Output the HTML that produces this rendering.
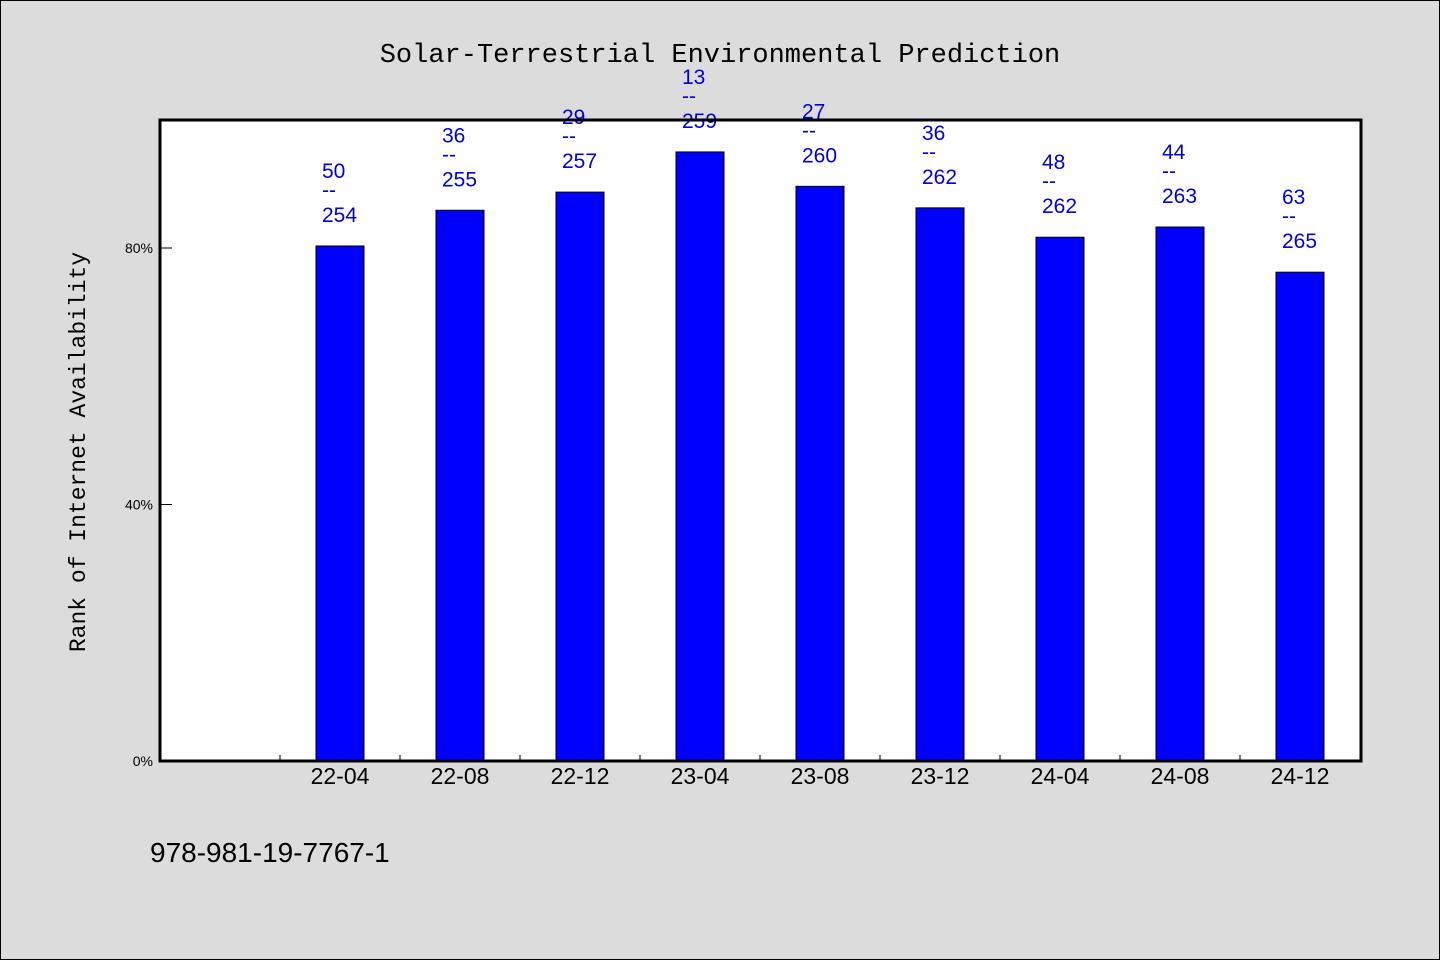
<!DOCTYPE html>
<html><head><meta charset="utf-8"><style>
body{margin:0;background:#dcdcdc;}
svg{display:block;}
</style></head><body>
<svg width="1440" height="960" viewBox="0 0 1440 960" xmlns="http://www.w3.org/2000/svg">
<rect x="0.5" y="0.5" width="1439" height="959" fill="#dcdcdc" stroke="#000"/>
<text x="720" y="62" text-anchor="middle" font-family="Liberation Mono, monospace" font-size="27" fill="#000">Solar-Terrestrial Environmental Prediction</text>
<rect x="160" y="120" width="1201" height="641" fill="#fff"/>
<g id="marks"></g>
<rect x="160" y="120" width="1201" height="641" fill="none" stroke="#000" stroke-width="3"/>
<text transform="translate(85,452) rotate(-90)" text-anchor="middle" font-family="Liberation Mono, monospace" font-size="23" fill="#000">Rank of Internet Availability</text>
<text x="150" y="862" font-family="Liberation Sans, sans-serif" font-size="28" fill="#000">978-981-19-7767-1</text>
</svg>
<script>
const categories = ["22-04","22-08","22-12","23-04","23-08","23-12","24-04","24-08","24-12"];
const ranks = [50,36,29,13,27,36,48,44,63];
const totals = [254,255,257,259,260,262,262,263,265];
const yTicks = [0,40,80];
const yTickLabels = ["0%","40%","80%"];

const NS="http://www.w3.org/2000/svg";
const g=document.getElementById('marks');
const x0=160, slotW=120, y0=761, pxPerPct=513/80;
const xScale=i=>x0+slotW*(i+1)+slotW/2;
const yScale=v=>y0-v*pxPerPct;
function mk(tag,attrs,text){const e=document.createElementNS(NS,tag);for(const k in attrs)e.setAttribute(k,attrs[k]);if(text!==undefined)e.textContent=text;g.appendChild(e);return e;}

yTicks.forEach((t,i)=>{
  const y=yScale(t);
  const l=mk('line',{x1:160,x2:172,y1:y,y2:y,stroke:'#000','stroke-width':1});
  
  
  const tx=mk('text',{x:153,y:y+5,'text-anchor':'end','font-family':'Liberation Sans, sans-serif','font-size':14,fill:'#000'},yTickLabels[i]);
  
  
});
for(let i=1;i<=categories.length;i++){
  const x=x0+slotW*i;
  const l=mk('line',{x1:x,x2:x,y1:y0,y2:y0-6,stroke:'#000','stroke-width':1});
  
  
}
categories.forEach((c,i)=>{
  const v=(1-ranks[i]/totals[i])*100;
  const cx=xScale(i), top=yScale(v);
  const r=mk('rect',{x:cx-24,y:top,width:48,height:y0-top,fill:'#0000ff',stroke:'#000','stroke-width':1});
  
  
  const t1=mk('text',{x:cx-18,y:top-68,'font-family':'Liberation Sans, sans-serif','font-size':21,fill:'#0000dd'},String(ranks[i]));
  
  
  const t2=mk('text',{x:cx-18,y:top-49,'font-family':'Liberation Sans, sans-serif','font-size':21,fill:'#0000dd'},'--');
  
  
  const t3=mk('text',{x:cx-18,y:top-24,'font-family':'Liberation Sans, sans-serif','font-size':21,fill:'#0000dd'},String(totals[i]));
  
  
  const xl=mk('text',{x:cx,y:784,'text-anchor':'middle','font-family':'Liberation Sans, sans-serif','font-size':23,fill:'#000'},c);
  
  
});
</script>
</body></html>
